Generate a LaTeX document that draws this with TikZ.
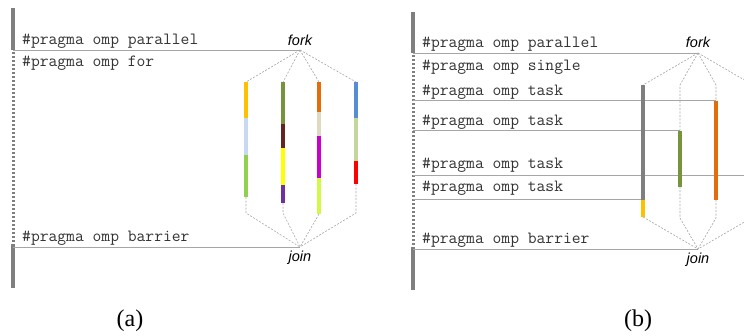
\documentclass[tikz,border=0pt]{standalone}
\usepackage{fontspec}
\setmainfont{Liberation Serif}
\setsansfont{Liberation Sans}
\usepackage{tikz}

\definecolor{barGray}{HTML}{7F7F7F}
\definecolor{lineGray}{HTML}{A6A6A6}
\definecolor{cGold}{HTML}{FFC000}
\definecolor{cSky}{HTML}{C6D9F1}
\definecolor{cGreen}{HTML}{92D050}
\definecolor{cOlive}{HTML}{77933C}
\definecolor{cMaroon}{HTML}{632523}
\definecolor{cYellow}{HTML}{FFFF00}
\definecolor{cPurple}{HTML}{7030A0}
\definecolor{cOrange}{HTML}{E46C0A}
\definecolor{cBeige}{HTML}{DDD9C3}
\definecolor{cMagenta}{HTML}{C800C8}
\definecolor{cLime}{HTML}{D2F84A}
\definecolor{cBlue}{HTML}{558ED5}
\definecolor{cSage}{HTML}{C3D69B}
\definecolor{cRed}{HTML}{FF0000}

\begin{document}
\begin{tikzpicture}[x=1pt, y=-1pt,
    code/.style={anchor=base west, inner sep=0pt, text=black!80,
      font=\ttfamily\fontsize{17.1}{17}\selectfont},
    fj/.style={anchor=base, inner sep=0pt,
      font=\sffamily\itshape\fontsize{14.5}{14}\selectfont},
    captext/.style={anchor=base, inner sep=0pt, font=\fontsize{24}{24}\selectfont},
    pline/.style={line width=0.8pt, lineGray},
    tline/.style={line width=0.6pt, lineGray, dash pattern=on 2pt off 1.5pt},
    master/.style={line width=3.2pt, barGray},
    mdots/.style={line width=3pt, barGray, dash pattern=on 2.2pt off 1.8pt},
    bar/.style={line width=3.2pt}]
  \useasboundingbox (0,0) rectangle (744,335);
  \clip (0,0) rectangle (744,335);

  % (a) parallel for
  \coordinate (fa) at (300,50);
  \coordinate (ja) at (300,247);
  \draw [master] (13,8) -- (13,50);
  \draw [mdots] (13,52) -- (13,243);
  \draw [master] (13,244) -- (13,288);
  \draw [pline] (13,50) -- (fa);
  \draw [pline] (13,247) -- (ja);

  \node[code](apar) at (22,44){\#pragma omp parallel};
  \node[code](afor) at (22,66){\#pragma omp for};
  \node[code](abar) at (22,241){\#pragma omp barrier};
  \node[fj](fork1) at (300,45){fork};
  \node[fj](join1) at (300,261){join};

  \draw [tline] (fa) -- (246,82);
  \draw [tline] (fa) -- (283,82);
  \draw [tline] (fa) -- (319,82);
  \draw [tline] (fa) -- (356,82);

  \draw [bar, cGold] (246,82) -- (246,118);
  \draw [bar, cSky] (246,118) -- (246,155);
  \draw [bar, cGreen] (246,155) -- (246,197);

  \draw [bar, cOlive] (283,82) -- (283,124);
  \draw [bar, cMaroon] (283,124) -- (283,148);
  \draw [bar, cYellow] (283,148) -- (283,185);
  \draw [bar, cPurple] (283,185) -- (283,203);

  \draw [bar, cOrange] (319,82) -- (319,112);
  \draw [bar, cBeige] (319,112) -- (319,136);
  \draw [bar, cMagenta] (319,136) -- (319,178);
  \draw [bar, cLime] (319,178) -- (319,214);

  \draw [bar, cBlue] (356,82) -- (356,118);
  \draw [bar, cSage] (356,118) -- (356,161);
  \draw [bar, cRed] (356,161) -- (356,184);

  \draw [tline] (246,197) -- (246,213) -- (ja);
  \draw [tline] (283,203) -- (283,213) -- (ja);
  \draw [tline] (319,214) -- (ja);
  \draw [tline] (356,184) -- (356,213) -- (ja);

  \node[captext](capa) at (130,326){(a)};

  % (b) single + tasks
  \coordinate (fb) at (698,53);
  \coordinate (jb) at (698,249);
  \draw [master] (413,12) -- (413,53);
  \draw [mdots] (413,55) -- (413,246);
  \draw [master] (413,247) -- (413,290);

  \node[code](bpar) at (422,47.5){\#pragma omp parallel};
  \node[code](bsgl) at (422,70){\#pragma omp single};
  \node[code](bt1) at (422,95){\#pragma omp task};
  \node[code](bt2) at (422,125.5){\#pragma omp task};
  \node[code](bt3) at (422,168){\#pragma omp task};
  \node[code](bt4) at (422,191.5){\#pragma omp task};
  \node[code](bbar) at (422,243){\#pragma omp barrier};
  \node[fj](fork2) at (698,47.5){fork};
  \node[fj](join2) at (698,263){join};

  \draw [pline] (413,53) -- (fb);
  \draw [pline] (413,100.5) -- (716,100.5);
  \draw [pline] (413,130.5) -- (680,130.5);
  \draw [pline] (413,175) -- (760,175);
  \draw [pline] (413,199.5) -- (643,199.5);
  \draw [pline] (413,249) -- (jb);

  \draw [tline] (fb) -- (643,85);
  \draw [tline] (fb) -- (680,85) -- (680,130.5);
  \draw [tline] (fb) -- (716,85) -- (716,100.5);
  \draw [tline] (fb) -- (753,85);

  \draw [bar, barGray] (643,85) -- (643,199.5);
  \draw [bar, cGold] (643,199.5) -- (643,217);
  \draw [bar, cOlive] (680,130.5) -- (680,186.5);
  \draw [bar, cOrange] (716,100.5) -- (716,199.5);

  \draw [tline] (643,217) -- (jb);
  \draw [tline] (680,186.5) -- (680,218) -- (jb);
  \draw [tline] (716,199.5) -- (716,218) -- (jb);
  \draw [tline] (753,217) -- (jb);

  \node[captext](capb) at (638,326){(b)};
\end{tikzpicture}
\end{document}
